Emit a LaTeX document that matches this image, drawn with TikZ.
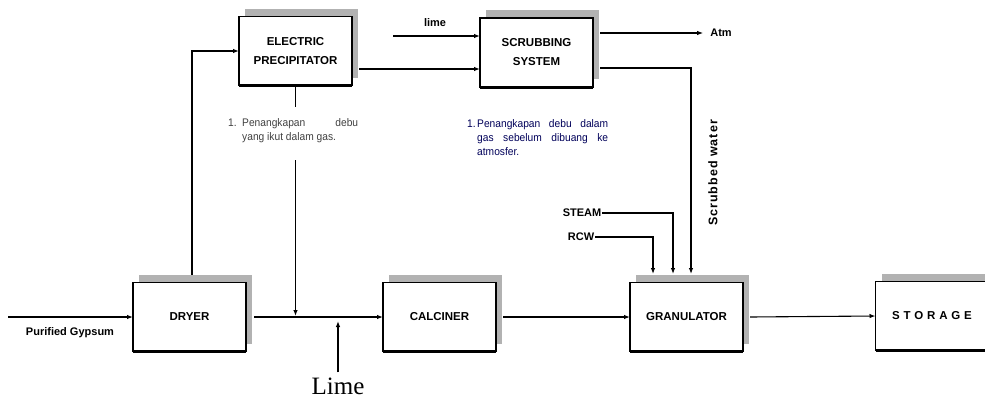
\documentclass[tikz,border=0pt]{standalone}
\usepackage{fontspec}
\setmainfont{Liberation Serif}
\setsansfont{Liberation Sans}
\newfontfamily\narrowsans[FakeStretch=0.93]{Liberation Sans}
\usetikzlibrary{arrows.meta, shadows}
\tikzset{
    unit/.style={draw, line width=1.4pt, fill=white, minimum width=113pt, minimum height=69pt,
        inner sep=0pt, outer sep=0pt, align=center,
        font=\sffamily\bfseries\fontsize{11.5}{19}\selectfont,
        drop shadow={shadow xshift=6pt, shadow yshift=8pt, fill=black!30, opacity=1}},
    flow/.style={-{Latex[length=6pt,width=4.5pt]}, line width=1.1pt},
    stream/.style={font=\sffamily\bfseries\fontsize{11}{13}\selectfont, inner sep=1pt},
    note/.style={font=\narrowsans\fontsize{11}{14}\selectfont, inner sep=0pt}
}
\begin{document}
\begin{tikzpicture}[x=1pt, y=-1pt]
    \useasboundingbox (0,0) rectangle (985,402);

    % process units
    \node[unit] (ep)    at (295.5,51)  {ELECTRIC\\PRECIPITATOR};
    \node[unit] (ss)    at (536.5,52.5) {SCRUBBING\\SYSTEM};
    \node[unit] (dryer) at (189.5,317) {DRYER};
    \node[unit] (calc)  at (439.5,317) {CALCINER};
    \node[unit] (gran)  at (686.5,317) {GRANULATOR};
    \node[unit] (store) at (932,316)   {S\hspace{3.8pt}T\hspace{3.8pt}O\hspace{3.8pt}R\hspace{3.8pt}A\hspace{3.8pt}G\hspace{3.8pt}E};
    \foreach \b in {ep,ss,dryer,calc,gran,store}
        \draw[line width=3pt] (\b.south west) -- (\b.south east);

    % stream labels
    \node[stream] (gypsum) at (70,333)  {Purified Gypsum};
    \node[stream] (limein) at (435,23)  {lime};
    \node[stream] (atm)    at (721,33)  {Atm};
    \node[stream] (steam)  at (582,213) {STEAM};
    \node[stream] (rcw)    at (581,237) {RCW};
    \node[stream, rotate=90, font=\sffamily\bfseries\fontsize{12.5}{14}\selectfont\addfontfeatures{LetterSpace=8}] (scrub) at (713,173) {Scrubbed water};
    \node[font=\fontsize{25}{28}\selectfont, inner sep=1pt] (lime) at (338,386) {Lime};

    % notes
    \node[note, text=black!75, anchor=north west] (noteep) at (228,118)
        {\makebox[14pt][l]{1.}\parbox[t]{116pt}{Penangkapan\hfill debu\\yang ikut dalam gas.}};
    \node[note, text=blue!35!black, anchor=north west] (notess) at (467,119)
        {\makebox[10pt][l]{1.}\parbox[t]{131pt}{Penangkapan debu dalam\linebreak gas sebelum dibuang ke\linebreak atmosfer.}};

    % junction points
    \coordinate (feed)     at (8,317);
    \coordinate (limeline) at (393,36);
    \coordinate (epout)    at (359,69);
    \coordinate (ssvent)   at (600,33);
    \coordinate (ssout)    at (600,68);
    \coordinate (scrubin)  at (691,274);
    \coordinate (steamin)  at (673,274);
    \coordinate (rcwin)    at (653,274);
    \coordinate (dustA)    at (295.5,107);
    \coordinate (dustB)    at (295.5,160);
    \coordinate (dustC)    at (295.5,316);
    \coordinate (limejoin) at (338,321);

    % connectors
    \draw[flow] (feed) -- (dryer.west);
    \draw[flow] ([xshift=2.5pt,yshift=8pt]dryer.north) |- (ep.west);
    \draw[flow] ([xshift=8pt]dryer.east) -- (calc.west);
    \draw[flow] ([xshift=7pt]calc.east) -- (gran.west);
    \draw[flow] ([xshift=7pt]gran.east) -- (store.west);
    \draw[line width=1.1pt] (ep.south) -- (dustA);
    \draw[flow] (dustB) -- (dustC);
    \draw[flow, shorten <=4pt] (lime.north) -- (limejoin);
    \draw[flow] (limeline) -- (limeline -| ss.west);
    \draw[flow] (epout) -- (epout -| ss.west);
    \draw[flow, shorten >=6pt] (ssvent) -- (atm.west);
    \draw[flow] (ssout) -| (scrubin);
    \draw[flow] (steam.east) -| (steamin);
    \draw[flow] (rcw.east) -| (rcwin);
\end{tikzpicture}
\end{document}
